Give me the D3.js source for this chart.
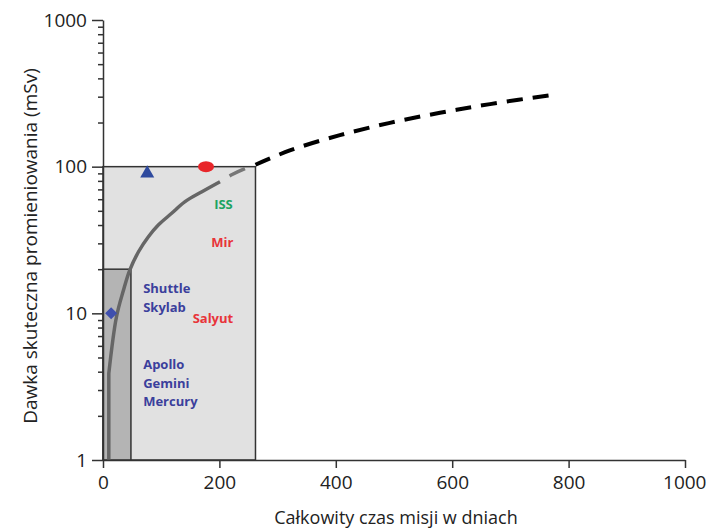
<!DOCTYPE html>
<html>
<head>
  <meta charset="utf-8">
  <script src="https://d3js.org/d3.v7.min.js"></script>
  <style>
    body { margin: 0; background: #fff; }
    .chart { font-family: "Open Sans", sans-serif; }
    .axis path, .axis line { stroke: #333; stroke-width: 1.5; }
    .axis text { font-size: 19px; fill: #222; font-family: "Open Sans", sans-serif; }
    .axis-label { fill: #222; }
    .mission { font-size: 13px; font-weight: bold; }
  </style>
</head>
<body>
  <div id="viz"></div>

  <script>
    // x ticks (days) and y ticks (mSv)
    const xTicks = [0, 200, 400, 600, 800, 1000];
    const yTicks = [1, 10, 100, 1000];

    // shaded boxes: [days from, days to, dose from, dose to]
    const outerBox = [0, 262, 1, 100];
    const innerBox = [0, 48, 1, 20];

    // dose curve
    const solidDays = [10, 10, 23, 35, 46, 61, 78, 95, 118, 141, 170, 201];
    const solidDose = [1, 3.9, 9.4, 14.3, 19.7, 26.3, 33.3, 40.0, 48.1, 57.7, 67.5, 79];
    const grayDashDays = [201, 221, 247, 262];
    const grayDashDose = [79, 88, 98, 103];
    const blackDashDays = [262, 321, 407, 493, 579, 665, 780];
    const blackDashDose = [103, 129, 164, 199, 233, 267, 312];

    // point markers
    const triangleAt = [76, 90];
    const circleAt = [177, 100];
    const diamondAt = [14, 10];

    // mission labels
    const labelText = ["ISS", "Mir", "Shuttle", "Skylab", "Salyut", "Apollo", "Gemini", "Mercury"];
    const labelDays = [191, 186, 69, 69, 154, 69, 69, 69];
    const labelDose = [55.6, 30.6, 14.7, 11.0, 9.3, 4.51, 3.35, 2.49];
    const labelColor = ["#1da462", "#e8343a", "#3b3f9c", "#3b3f9c", "#e8343a", "#3b3f9c", "#3b3f9c", "#3b3f9c"];

    const W = 707, H = 532;
    const svg = d3.select("#viz").append("svg")
      .attr("class", "chart")
      .attr("width", W)
      .attr("height", H);

    const x = d3.scaleLinear().domain([0, 1000]).range([103, 685]);
    const y = d3.scaleLog().domain([1, 1000]).range([460, 20]);

    // boxes
    function box(b, fill) {
      svg.append("rect")
        .attr("x", x(b[0]))
        .attr("y", y(b[3]))
        .attr("width", x(b[1]) - x(b[0]))
        .attr("height", y(b[2]) - y(b[3]))
        .attr("fill", fill)
        .attr("stroke", "#333")
        .attr("stroke-width", 1.5);
    }
    box(outerBox, "#e1e1e1");
    box(innerBox, "#b4b4b4");

    // curves
    const line = d3.line().x(d => x(d[0])).y(d => y(d[1])).curve(d3.curveCatmullRom);
    const lineLin = d3.line().x(d => x(d[0])).y(d => y(d[1]));

    svg.append("path")
      .datum(solidDays.map((d, i) => [d, solidDose[i]]))
      .attr("d", d => lineLin(d.slice(0, 2)) + line(d.slice(1)).replace(/^M/, "L"))
      .attr("fill", "none")
      .attr("stroke", "#666")
      .attr("stroke-width", 3.5);

    svg.append("path")
      .datum(grayDashDays.map((d, i) => [d, grayDashDose[i]]))
      .attr("d", line)
      .attr("fill", "none")
      .attr("stroke", "#777")
      .attr("stroke-width", 3.5)
      .attr("stroke-dasharray", "0 11 17 100");

    svg.append("path")
      .datum(blackDashDays.map((d, i) => [d, blackDashDose[i]]))
      .attr("d", line)
      .attr("fill", "none")
      .attr("stroke", "#000")
      .attr("stroke-width", 4)
      .attr("stroke-dasharray", "16 10");

    // axes
    const yMinor = [];
    for (let dec = 1; dec < 1000; dec *= 10)
      for (let k = 2; k <= 9; k++) yMinor.push(dec * k);

    svg.append("g")
      .attr("class", "axis")
      .attr("transform", `translate(${x(0)},0)`)
      .call(d3.axisLeft(y).tickValues(yMinor).tickSize(5).tickFormat(""))
      .select(".domain").remove();

    svg.append("g")
      .attr("class", "axis")
      .attr("transform", `translate(${x(0)},0)`)
      .call(d3.axisLeft(y).tickValues(yTicks).tickSize(11).tickSizeOuter(0).tickFormat(d3.format("d")))
      .call(g => g.selectAll("text").attr("dx", "-2"));

    svg.append("g")
      .attr("class", "axis")
      .attr("transform", `translate(0,${y(1)})`)
      .call(d3.axisBottom(x).tickValues(xTicks).tickSize(8).tickSizeOuter(0).tickFormat(d3.format("d")))
      .call(g => g.selectAll("text").attr("dy", "0.95em"))
      // last label sits against the right edge, as in the original
      .call(g => g.selectAll("text").filter(d => d === 1000)
        .attr("text-anchor", "end").attr("x", W - 1 - x(1000)));

    // markers
    svg.append("path")
      .attr("d", d3.symbol().type(d3.symbolTriangle).size(85)())
      .attr("transform", `translate(${x(triangleAt[0])},${y(triangleAt[1])})`)
      .attr("fill", "#2e4a9e");

    svg.append("ellipse")
      .attr("cx", x(circleAt[0]))
      .attr("cy", y(circleAt[1]))
      .attr("rx", 8)
      .attr("ry", 5.5)
      .attr("fill", "#e8262a");

    svg.append("path")
      .attr("d", d3.symbol().type(d3.symbolSquare).size(72)())
      .attr("transform", `translate(${x(diamondAt[0])},${y(diamondAt[1])}) rotate(45)`)
      .attr("fill", "#3f4fae");

    // mission labels
    svg.append("g")
      .selectAll("text")
      .data(labelText)
      .join("text")
      .attr("class", "mission")
      .attr("x", (d, i) => x(labelDays[i]))
      .attr("y", (d, i) => y(labelDose[i]))
      .attr("dy", "0.35em")
      .attr("fill", (d, i) => labelColor[i])
      .text(d => d);

    // axis titles
    svg.append("text")
      .attr("class", "axis-label")
      .attr("text-anchor", "middle")
      .attr("x", 396)
      .attr("y", 524)
      .style("font-size", "18px")
      .text("Całkowity czas misji w dniach");

    svg.append("text")
      .attr("class", "axis-label")
      .attr("text-anchor", "middle")
      .attr("transform", "translate(37,246) rotate(-90)")
      .style("font-size", "19px")
      .text("Dawka skuteczna promieniowania (mSv)");
  </script>
</body>
</html>
